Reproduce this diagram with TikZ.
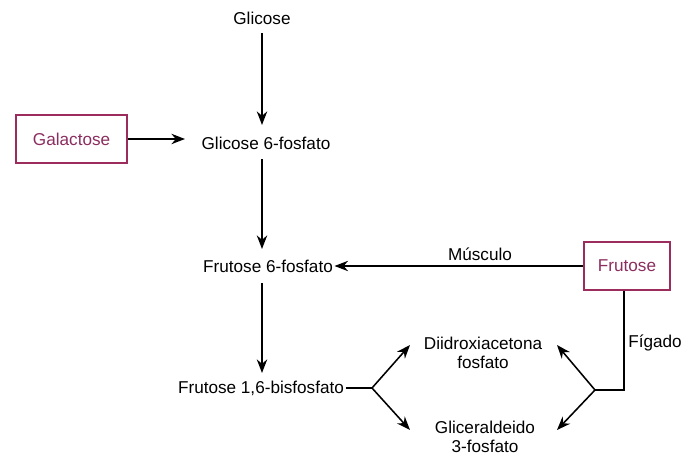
\documentclass[tikz,border=0pt]{standalone}
\usepackage{fontspec}
\setmainfont{Liberation Sans}
\usetikzlibrary{arrows.meta}
\definecolor{boxred}{HTML}{9C2C5C}
\definecolor{boxtext}{HTML}{8B2D5E}
\tikzset{
  met/.style={inner sep=1pt, align=center, font=\fontsize{12.2}{13.5}\selectfont},
  sugarbox/.style={draw=boxred, line width=1.4pt, minimum height=1.2cm, text=boxtext, font=\fontsize{12.2}{13.5}\selectfont},
  flow/.style={-{Stealth[length=3.4mm,width=2.6mm]}, line width=1.1pt},
  plain/.style={line width=1.1pt}
}
\begin{document}
\begin{tikzpicture}[x=1cm,y=1cm]
\useasboundingbox (0,0) rectangle (17.075,11.425);

\node[met] (glicose) at (6.55,10.975) {Glicose};
\node[met] (g6p) at (6.65,7.85) {Glicose 6-fosfato};
\node[met] (f6p) at (6.7,4.775) {Frutose 6-fosfato};
\node[met] (f16bp) at (6.525,1.725) {Frutose 1,6-bisfosfato};
\node[sugarbox, minimum width=2.775cm] (galactose) at (1.79,7.95) {Galactose};
\node[sugarbox, minimum width=2.15cm] (frutose) at (15.675,4.775) {Frutose};
\node[met] (musculo) at (12.0,5.08) {Músculo};
\node[met] (dhap) at (12.075,2.6) {Diidroxiacetona\\fosfato};
\node[met] (gap) at (12.125,0.5) {Gliceraldeido\\3-fosfato};
\node[met] (figado) at (16.375,2.85) {Fígado};

\coordinate (splitL) at (9.3,1.725);
\coordinate (splitR) at (14.875,1.675);
\coordinate (corner) at (15.6,1.675);

\draw[flow] (6.55,10.6) -- (6.55,8.3);
\draw[flow] (6.55,7.45) -- (6.55,5.2);
\draw[flow] (6.55,4.35) -- (6.55,2.1);
\draw[flow] (galactose.east) -- (4.625,7.95);
\draw[flow] (frutose.west) -- (f6p.east);

\draw[plain] (f16bp.east) -- (splitL);
\draw[flow] (splitL) -- (10.25,2.8);
\draw[flow] (splitL) -- (10.25,0.675);

\draw[plain] (frutose.south -| corner) -- (corner) -- (splitR);
\draw[flow] (splitR) -- (13.925,2.8);
\draw[flow] (splitR) -- (13.925,0.675);
\end{tikzpicture}
\end{document}
